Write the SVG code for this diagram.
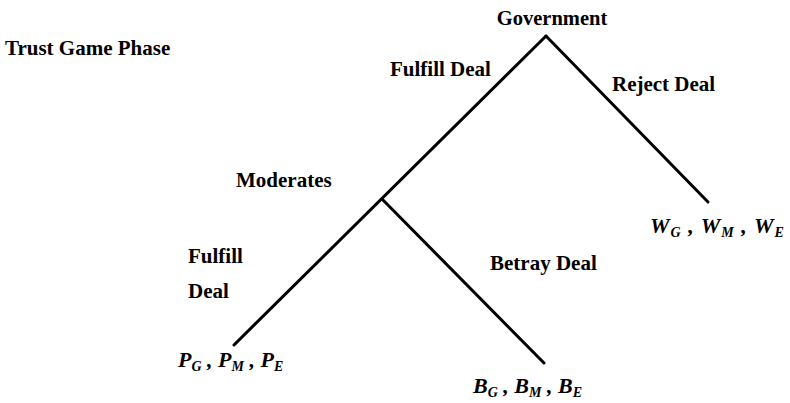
<svg xmlns="http://www.w3.org/2000/svg" width="790" height="403" viewBox="0 0 790 403">
<style>
.lbl{font-family:"Liberation Serif","Times New Roman",serif;font-size:21px;font-weight:bold;fill:#000}
.m{font-family:"Liberation Serif","Times New Roman",serif;font-size:22px;font-weight:bold;font-style:italic;fill:#000}
.s{font-size:14px}
.e{stroke:#000;stroke-width:3;fill:none;stroke-linecap:round}
</style>
<rect width="790" height="403" fill="#fff"/>
<text class="lbl" x="5" y="55" font-size="20.5">Trust Game Phase</text>
<g id="connectors">
<line class="e" x1="546" y1="36" x2="234" y2="345"/>
<line class="e" x1="546" y1="36" x2="708" y2="202"/>
<line class="e" x1="382" y1="199" x2="544" y2="363"/>
</g>
<g id="government"><text class="lbl" x="552" y="25" text-anchor="middle" style="font-size:20.5px">Government</text></g>
<g id="label-fulfill-gov"><text class="lbl" x="390" y="76">Fulfill Deal</text></g>
<g id="label-reject"><text class="lbl" x="612" y="91">Reject Deal</text></g>
<g id="moderates"><text class="lbl" x="236" y="187">Moderates</text></g>
<g id="label-fulfill-mod"><text class="lbl" x="188" y="263">Fulfill</text><text class="lbl" x="188" y="298">Deal</text></g>
<g id="label-betray"><text class="lbl" x="490" y="270">Betray Deal</text></g>
<g id="outcome-W"><text class="m" x="650" y="233" letter-spacing="1" xml:space="preserve">W<tspan class="s" dy="4">G</tspan><tspan dy="-4"> , W</tspan><tspan class="s" dy="4">M</tspan><tspan dy="-4"> , W</tspan><tspan class="s" dy="4">E</tspan></text></g>
<g id="outcome-P"><text class="m" x="178" y="367" xml:space="preserve">P<tspan class="s" dy="4">G</tspan><tspan dy="-4"> , P</tspan><tspan class="s" dy="4">M</tspan><tspan dy="-4"> , P</tspan><tspan class="s" dy="4">E</tspan></text></g>
<g id="outcome-B"><text class="m" x="473" y="393" xml:space="preserve">B<tspan class="s" dy="4">G</tspan><tspan dy="-4"> , B</tspan><tspan class="s" dy="4">M</tspan><tspan dy="-4"> , B</tspan><tspan class="s" dy="4">E</tspan></text></g>
</svg>
